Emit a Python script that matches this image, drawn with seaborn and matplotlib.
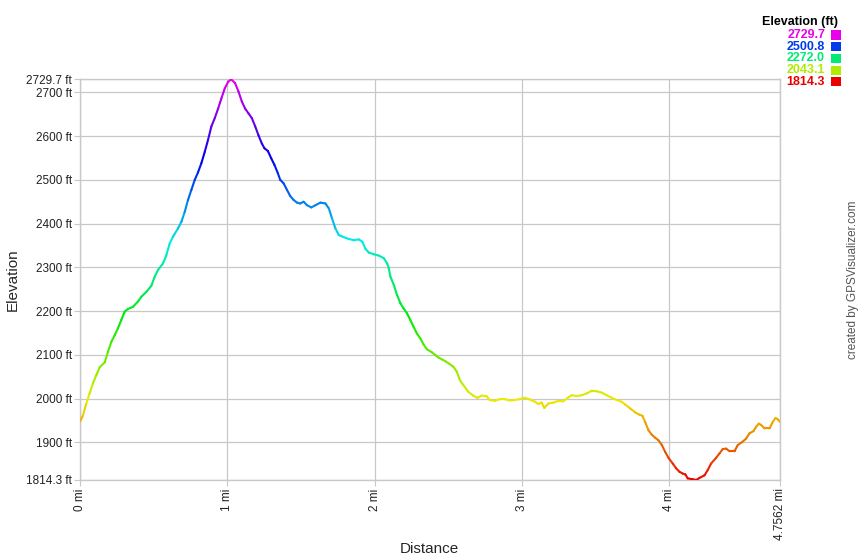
"""Elevation profile (GPSVisualizer style) redrawn with seaborn + matplotlib."""
import numpy as np
import matplotlib
matplotlib.use('Agg')
import matplotlib.pyplot as plt
import matplotlib.colors as mcolors
from matplotlib.collections import LineCollection
from matplotlib.patches import Rectangle
import seaborn as sns

# distance along the track (mi) and elevation (ft)
distance_mi = [
    0.000, 0.018, 0.041, 0.063, 0.086, 0.109, 0.132, 0.166, 0.188, 0.211,
    0.234, 0.256, 0.279, 0.302, 0.324, 0.358, 0.392, 0.415, 0.449, 0.483,
    0.506, 0.528, 0.562, 0.585, 0.608, 0.630, 0.664, 0.687, 0.710, 0.732,
    0.755, 0.778, 0.800, 0.823, 0.846, 0.868, 0.891, 0.914, 0.937, 0.959,
    0.982, 1.005, 1.025, 1.052, 1.075, 1.098, 1.120, 1.143, 1.166, 1.189,
    1.211, 1.234, 1.252, 1.275, 1.298, 1.320, 1.343, 1.359, 1.382, 1.405,
    1.427, 1.450, 1.473, 1.495, 1.518, 1.541, 1.570, 1.598, 1.632, 1.666,
    1.689, 1.711, 1.734, 1.757, 1.791, 1.825, 1.859, 1.893, 1.916, 1.939,
    1.961, 1.995, 2.029, 2.063, 2.086, 2.097, 2.108, 2.131, 2.153, 2.176,
    2.198, 2.221, 2.243, 2.266, 2.288, 2.311, 2.333, 2.356, 2.390, 2.412,
    2.435, 2.457, 2.480, 2.507, 2.536, 2.559, 2.581, 2.604, 2.637, 2.671,
    2.700, 2.727, 2.761, 2.784, 2.818, 2.851, 2.885, 2.919, 2.953, 2.986,
    3.023, 3.057, 3.091, 3.113, 3.136, 3.154, 3.181, 3.215, 3.249, 3.283,
    3.313, 3.340, 3.374, 3.408, 3.442, 3.476, 3.510, 3.544, 3.578, 3.612,
    3.646, 3.680, 3.703, 3.737, 3.771, 3.798, 3.821, 3.839, 3.862, 3.884,
    3.907, 3.930, 3.952, 3.975, 3.998, 4.027, 4.050, 4.073, 4.095, 4.113,
    4.129, 4.163, 4.186, 4.209, 4.243, 4.265, 4.288, 4.322, 4.345, 4.367,
    4.390, 4.413, 4.447, 4.469, 4.503, 4.526, 4.549, 4.576, 4.594, 4.612,
    4.628, 4.651, 4.685, 4.707, 4.726, 4.741, 4.7562,
]
elevation_ft = [
    1948.8, 1962, 1989, 2012, 2035, 2054, 2072, 2083, 2107, 2130,
    2145, 2161, 2180, 2199, 2205, 2210, 2222, 2233, 2244, 2258,
    2279, 2294, 2309, 2328, 2355, 2370, 2389, 2404, 2427, 2454,
    2477, 2500, 2517, 2538, 2564, 2591, 2622, 2641, 2663, 2686,
    2709, 2724, 2729.7, 2721, 2702, 2679, 2663, 2652, 2641, 2622,
    2602, 2583, 2572, 2566, 2549, 2534, 2515, 2500, 2492, 2477,
    2463, 2454, 2448, 2446, 2450, 2442, 2437, 2442, 2448, 2446,
    2435, 2412, 2389, 2374, 2369, 2365, 2362, 2364, 2359, 2342,
    2334, 2330, 2327, 2321, 2309, 2298, 2279, 2260, 2237, 2218,
    2206, 2195, 2180, 2164, 2149, 2138, 2124, 2113, 2106, 2100,
    2094, 2090, 2086, 2080, 2073, 2062, 2042, 2031, 2016, 2007,
    2002, 2007, 2006, 1997, 1995, 1999, 1999, 1996, 1997, 1999,
    2002, 1998, 1993, 1988, 1991, 1979, 1989, 1991, 1995, 1994,
    2002, 2008, 2006, 2008, 2012, 2018, 2017, 2014, 2008, 2002,
    1997, 1993, 1987, 1978, 1969, 1964, 1961, 1947, 1928, 1918,
    1911, 1905, 1895, 1879, 1865, 1852, 1841, 1833, 1829, 1827,
    1818, 1816, 1814.3, 1819, 1825, 1837, 1852, 1865, 1875, 1885,
    1886, 1880, 1880, 1894, 1902, 1909, 1921, 1926, 1936, 1943,
    1940, 1932, 1932, 1947, 1956, 1953, 1947,
]

y_ticks = [1814.3, 1900, 2000, 2100, 2200, 2300, 2400, 2500, 2600, 2700, 2729.7]
x_ticks = [0, 1, 2, 3, 4, 4.7562]
legend_values = [2729.7, 2500.8, 2272.0, 2043.1, 1814.3]

sns.set_style('white')
plt.rcParams['font.family'] = ['Liberation Sans', 'DejaVu Sans']

E_MIN, E_MAX = min(elevation_ft), max(elevation_ft)
GRID = '#c8c8c8'


def elev_color(e):
    # red (low) -> yellow -> green -> cyan -> blue -> magenta (high)
    frac = (e - E_MIN) / (E_MAX - E_MIN)
    return mcolors.hsv_to_rgb((frac * 300 / 360, 1.0, 0.92))


fig = plt.figure(figsize=(8.6, 5.6), dpi=100)
ax = fig.add_axes([80.3 / 860, 1 - 480 / 560, (780 - 80.3) / 860, (480 - 79.3) / 560])

x = np.array(distance_mi)
y = np.array(elevation_ft)
pts = np.column_stack([x, y]).reshape(-1, 1, 2)
segs = np.concatenate([pts[:-1], pts[1:]], axis=1)
seg_colors = [elev_color((a + b) / 2) for a, b in zip(y[:-1], y[1:])]
ax.add_collection(LineCollection(segs, colors=seg_colors, linewidths=1.5,
                                 capstyle='round', joinstyle='round', zorder=3))

ax.set_xlim(0, x_ticks[-1])
ax.set_ylim(E_MIN, E_MAX)

ax.set_yticks(y_ticks)
ax.set_yticklabels([f'{v:g} ft' if v % 1 else f'{int(v)} ft' for v in y_ticks], fontsize=8.5)
ax.set_xticks(x_ticks)
ax.set_xticklabels([f'{v:g} mi' for v in x_ticks], rotation=90, fontsize=8.5)
ax.tick_params(axis='both', length=4, width=0.8, color=GRID, pad=2, colors='#222222')
ax.tick_params(axis='both', which='both', left=True, bottom=True)
ax.grid(True, color=GRID, linewidth=0.9)
for sp in ax.spines.values():
    sp.set_color(GRID)
    sp.set_linewidth(1.0)

ax.set_ylabel('Elevation', fontsize=11, labelpad=2)
ax.yaxis.set_label_coords(-61 / 700, 0.5)
ax.set_xlabel('Distance', fontsize=11)
ax.xaxis.set_label_coords(0.499, -62 / 401)

# legend in the top-right corner
fig.text(838 / 860, 1 - 21.5 / 560, 'Elevation (ft)', ha='right', va='center',
         fontsize=9, fontweight='bold', color='black')
for i, v in enumerate(legend_values):
    yc = 35 + i * 11.7
    c = elev_color(v)
    fig.text(825 / 860, 1 - yc / 560, f'{v:.1f}', ha='right', va='center',
             fontsize=9, fontweight='bold', color=c)
    fig.patches.append(Rectangle((831 / 860, 1 - (yc + 4.5) / 560), 9.5 / 860, 9 / 560,
                                 transform=fig.transFigure, facecolor=c, edgecolor='none'))

fig.text(853 / 860, 0.5, 'created by GPSVisualizer.com', rotation=90, ha='center', va='center',
         fontsize=8.5, color='#555555')

fig.savefig('out.png', dpi=100)
